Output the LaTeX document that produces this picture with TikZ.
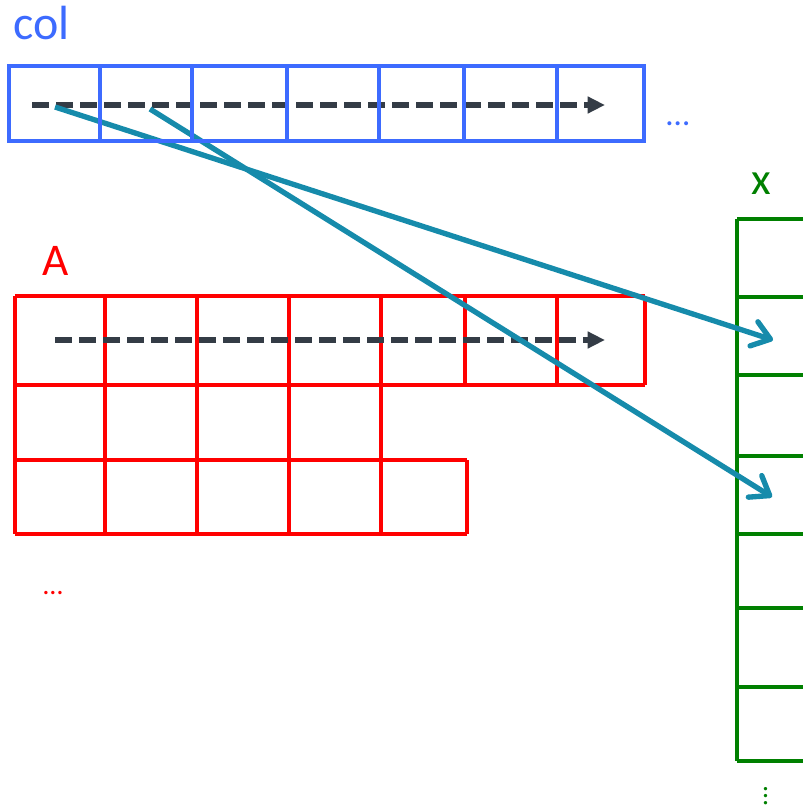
\documentclass[tikz,border=0pt]{standalone}
\usepackage{amsmath}
\usepackage{xcolor}
\usepackage{fontspec}
\setmainfont{Carlito}
\usetikzlibrary{arrows.meta}

\begin{document}
\begin{tikzpicture}[x=0.75pt,y=0.75pt,yscale=-1,xscale=1,
  colgrid/.style={color={rgb, 255:red, 61; green, 107; blue, 255}, line width=2.8pt},
  agrid/.style={color={rgb, 255:red, 255; green, 0; blue, 0}, line width=3pt},
  xgrid/.style={color={rgb, 255:red, 0; green, 128; blue, 0}, line width=2.8pt},
  scan/.style={color={rgb, 255:red, 52; green, 60; blue, 70}, line width=4.2pt,
    dash pattern=on 13pt off 5pt, -{Triangle[length=13pt,width=12pt]}},
  link/.style={color={rgb, 255:red, 22; green, 139; blue, 171}, line width=4pt,
    -{Straight Barb[length=13pt,width=19pt,line cap=round,line join=round]}},
  lbl/.style={anchor=base west, inner sep=0pt}]
\useasboundingbox (0,0) rectangle (802,809);

%Red grid: A
\draw [agrid] (15,296) -- (645,296) (15,385) -- (645,385) (15,460) -- (467,460) (15,534) -- (467,534);
\foreach \xa in {15,105,197,289,381} {
  \draw [agrid] (\xa,296) -- (\xa,534) ;
}
\draw [agrid] (465,296) -- (465,385) (557,296) -- (557,385) (645,296) -- (645,385) ;
\draw [agrid] (467,460) -- (467,534) ;

%Green grid: x
\draw [xgrid] (737,219) -- (737,761) ;
\foreach \yx in {219,297,375,456,534,608,687,761} {
  \draw [xgrid] (737,\yx) -- (810,\yx) ;
}

% Scan arrows
\coordinate (colstart) at (32,105);
\coordinate (colend) at (605,105);
\coordinate (astart) at (55,340);
\coordinate (aend) at (605,340);
\draw [scan] (astart) -- (aend) ;
\draw [scan] (colstart) -- (colend) ;

% Links from col to x
\coordinate (col0) at (55,107);
\coordinate (col1) at (150,109);
\coordinate (x1) at (773,340);
\coordinate (x3) at (772,497);
\draw [link] (col0) -- (x1) ;
\draw [link] (col1) -- (x3) ;

%Blue grid: col
\draw [colgrid] (9,66) rectangle (644,141) ;
\foreach \xc in {100,192,287,379,464,557} {
  \draw [colgrid] (\xc,66) -- (\xc,141) ;
}

% Text Node
\node [lbl, font=\fontsize{36}{40}\selectfont, color={rgb, 255:red, 61; green, 107; blue, 255}] (collabel) at (13,40) {col};
% Text Node
\node [lbl, font=\fontsize{34}{38}\selectfont, color={rgb, 255:red, 255; green, 0; blue, 0}] (alabel) at (42,275) {A};
% Text Node
\node [lbl, font=\fontsize{34}{38}\selectfont, color={rgb, 255:red, 0; green, 128; blue, 0}] (xlabel) at (751,195) {x};
% Text Node
\node [lbl, font=\fontsize{25}{28}\selectfont, color={rgb, 255:red, 61; green, 107; blue, 255}] (coldots) at (666,126) {\ldots};
% Text Node
\node [lbl, font=\fontsize{21}{24}\selectfont, color={rgb, 255:red, 255; green, 0; blue, 0}] (adots) at (43,594) {\ldots};
% Text Node
\node [lbl, font=\fontsize{21}{24}\selectfont, color={rgb, 255:red, 0; green, 128; blue, 0}, rotate=-90] (xdots) at (764,786) {\ldots};
\end{tikzpicture}
\end{document}
